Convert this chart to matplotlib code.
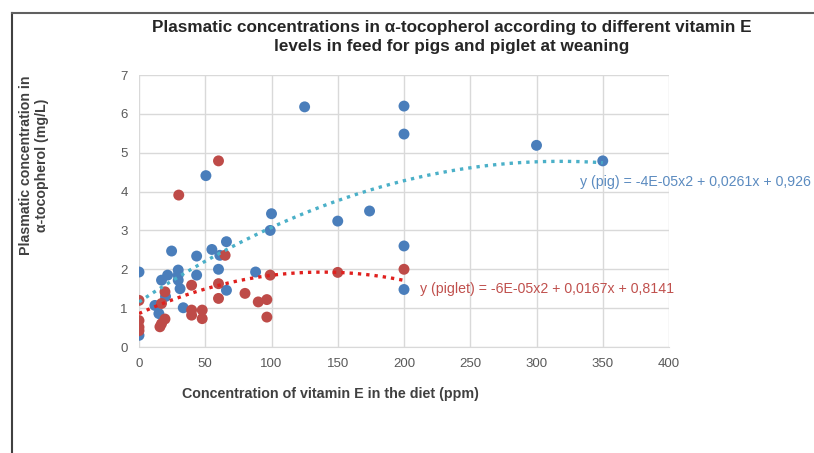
import numpy as np
import matplotlib
matplotlib.use("Agg")
import matplotlib.pyplot as plt
from matplotlib.lines import Line2D

# ---- data ----
pig_x = [0, 0, 12, 15, 17, 20, 21.6, 24.6, 29.6, 29.6, 29.6, 31, 33.4, 43.5, 43.5,
         50.5, 55, 60, 61, 66, 66, 88, 99, 100, 125, 150, 174, 200, 200, 200, 200, 300, 350]
pig_y = [1.93, 0.3, 1.07, 0.86, 1.72, 1.3, 1.85, 2.47, 1.98, 1.85, 1.72, 1.5, 1.01, 2.34, 1.85,
         4.41, 2.51, 2.0, 2.36, 2.71, 1.46, 1.93, 3.0, 3.43, 6.18, 3.24, 3.5, 6.2, 5.48, 2.6, 1.48, 5.19, 4.79]

piglet_x = [0, 0, 0, 0, 15.8, 17, 17, 19.6, 19.6, 30, 39.7, 39.7, 39.7, 47.7, 47.7,
            60, 60, 60, 65, 80, 90, 96.5, 96.5, 99, 150, 200]
piglet_y = [1.2, 0.68, 0.51, 0.42, 0.52, 1.12, 0.6, 1.42, 0.72, 3.91, 1.59, 0.95, 0.82, 0.95, 0.73,
            4.79, 1.63, 1.25, 2.36, 1.38, 1.16, 1.22, 0.77, 1.85, 1.92, 2.0]

pig_label = "y (pig) = -4E-05x2 + 0,0261x + 0,926"
piglet_label = "y (piglet) = -6E-05x2 + 0,0167x + 0,8141"
title = ("Plasmatic concentrations in \u03b1-tocopherol according to different vitamin E\n"
         "levels in feed for pigs and piglet at weaning")
xlabel = "Concentration of vitamin E in the diet (ppm)"
ylabel = "Plasmatic concentration in\n\u03b1-tocopherol (mg/L)"

plt.rcParams['font.family'] = ['Liberation Sans', 'DejaVu Sans']

fig = plt.figure(figsize=(8.14, 4.53), dpi=100)
ax = fig.add_axes([139/814, 1-347/453, (669-139)/814, (347-75)/453])

blue = '#4A7EBB'
red = '#BE4B48'

ax.scatter(pig_x, pig_y, s=62, color=blue, zorder=3, edgecolors='none')
ax.scatter(piglet_x, piglet_y, s=62, color=red, zorder=3, edgecolors='none')

# trendlines (2nd-order polynomial fits)
cp = np.polyfit(pig_x, pig_y, 2)
xx = np.linspace(0, max(pig_x), 200)
ax.plot(xx, np.polyval(cp, xx), color='#4BB0C8', lw=2.4, ls=(0, (1, 1.5)), zorder=4)
cl = np.polyfit(piglet_x, piglet_y, 2)
xx2 = np.linspace(0, max(piglet_x), 200)
ax.plot(xx2, np.polyval(cl, xx2), color='#E0201E', lw=2.4, ls=(0, (1, 1.5)), zorder=4)

ax.text(333, 4.24, pig_label, color='#5B8BC0', fontsize=10.2, va='center', ha='left', clip_on=False)
ax.text(212, 1.49, piglet_label, color='#C0504D', fontsize=10.2, va='center', ha='left', clip_on=False)

ax.set_xlim(0, 400)
ax.set_ylim(0, 7)
ax.set_xticks(np.arange(0, 401, 50))
ax.set_yticks(np.arange(0, 8, 1))
ax.grid(True, color='#D9D9D9', lw=1)
ax.set_axisbelow(True)
for s in ax.spines.values():
    s.set_visible(False)
ax.spines['bottom'].set_visible(True)
ax.spines['bottom'].set_color('#D9D9D9')
ax.tick_params(length=0, colors='#595959', labelsize=9.5, pad=8)

fig.text(452/814, 1-37/453, title, ha='center', va='center', fontsize=12.3,
         fontweight='bold', color='#262626', linespacing=1.3)
fig.text(330/814, 1-394/453, xlabel, ha='center', va='center', fontsize=10.3,
         fontweight='bold', color='#404040')
fig.text(34/814, 1-165/453, ylabel, ha='center', va='center', fontsize=10.2,
         fontweight='bold', color='#404040', rotation=90, linespacing=1.15)

# outer frame
fig.add_artist(Line2D([12/814, 12/814], [0, 1-13/453], transform=fig.transFigure, color='#404040', lw=1.5))
fig.add_artist(Line2D([12/814, 1], [1-13/453, 1-13/453], transform=fig.transFigure, color='#606060', lw=1.5))

fig.savefig('out.png', dpi=100)
